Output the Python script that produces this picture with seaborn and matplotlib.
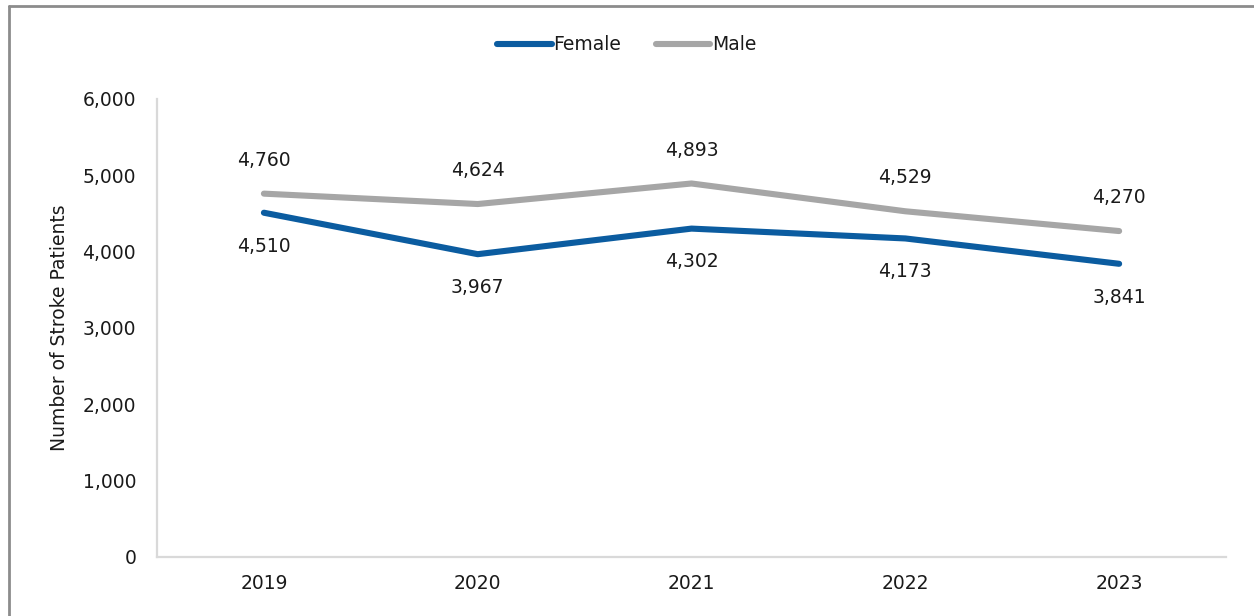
import matplotlib
matplotlib.use("Agg")
import matplotlib.pyplot as plt
from matplotlib.lines import Line2D
import seaborn as sns
import pandas as pd

# Stroke patients by sex, 2019-2023
years = ["2019", "2020", "2021", "2022", "2023"]
female = [4510, 3967, 4302, 4173, 3841]
male = [4760, 4624, 4893, 4529, 4270]
series_names = ["Female", "Male"]
y_ticks = [0, 1000, 2000, 3000, 4000, 5000, 6000]

df = pd.DataFrame({
    "Year": years * 2,
    "Patients": female + male,
    "Sex": [series_names[0]] * len(years) + [series_names[1]] * len(years),
})

sns.set_theme(style="white")
plt.rcParams["font.family"] = ["DejaVu Sans"]

FS = 13.5
palette = {"Female": "#0B5CA0", "Male": "#A6A6A6"}
text_color = "#1a1a1a"
axis_color = "#D9D9D9"

fig = plt.figure(figsize=(12.54, 6.16), dpi=100)
ax = fig.add_axes([0.1252, 0.0958, 0.9777 - 0.1252, 0.8393 - 0.0958])

sns.lineplot(data=df, x="Year", y="Patients", hue="Sex", palette=palette,
             linewidth=4.4, sort=False, ax=ax, legend=False,
             solid_capstyle="round")

ax.set_xlim(-0.5, 4.5)
ax.set_ylim(0, 6000)
ax.set_yticks(y_ticks)
ax.set_yticklabels([f"{v:,}" for v in y_ticks])
ax.set_xlabel("")
ax.set_ylabel("Number of Stroke Patients", fontsize=FS, color=text_color, labelpad=10)

for s in ["top", "right"]:
    ax.spines[s].set_visible(False)
for s in ["left", "bottom"]:
    ax.spines[s].set_color(axis_color)
    ax.spines[s].set_linewidth(1.6)

ax.tick_params(axis="both", direction="in", length=4, width=1.2, color=axis_color,
               labelsize=FS, labelcolor=text_color)
ax.tick_params(axis="y", pad=15)
ax.tick_params(axis="x", pad=12)
ax.set_xticks([-0.5, 0, 1, 2, 3, 4, 4.5])
ax.set_xticklabels([""] + years + [""])

# Value labels: male above, female below
for i, v in enumerate(male):
    ax.annotate(f"{v:,}", (i, v), xytext=(0, 24), textcoords="offset points",
                ha="center", va="center", fontsize=FS, color=text_color)
for i, v in enumerate(female):
    ax.annotate(f"{v:,}", (i, v), xytext=(0, -24), textcoords="offset points",
                ha="center", va="center", fontsize=FS, color=text_color)

handles = [Line2D([0], [0], color=palette[n], lw=4.4, solid_capstyle="round") for n in series_names]
fig.legend(handles, series_names, loc="center", bbox_to_anchor=(0.5, 0.927),
           ncol=2, frameon=False, fontsize=FS, handlelength=2.9, handletextpad=0.1,
           columnspacing=1.85, labelcolor=text_color)

# Outer frame (left and top edges)
frame_color = "#8C8C8C"
fig.add_artist(Line2D([9 / 1254, 9 / 1254], [0, 1 - 6 / 616], transform=fig.transFigure,
                      color=frame_color, lw=2))
fig.add_artist(Line2D([9 / 1254, 1], [1 - 6 / 616, 1 - 6 / 616], transform=fig.transFigure,
                      color=frame_color, lw=2))

fig.savefig("out.png", dpi=100)
